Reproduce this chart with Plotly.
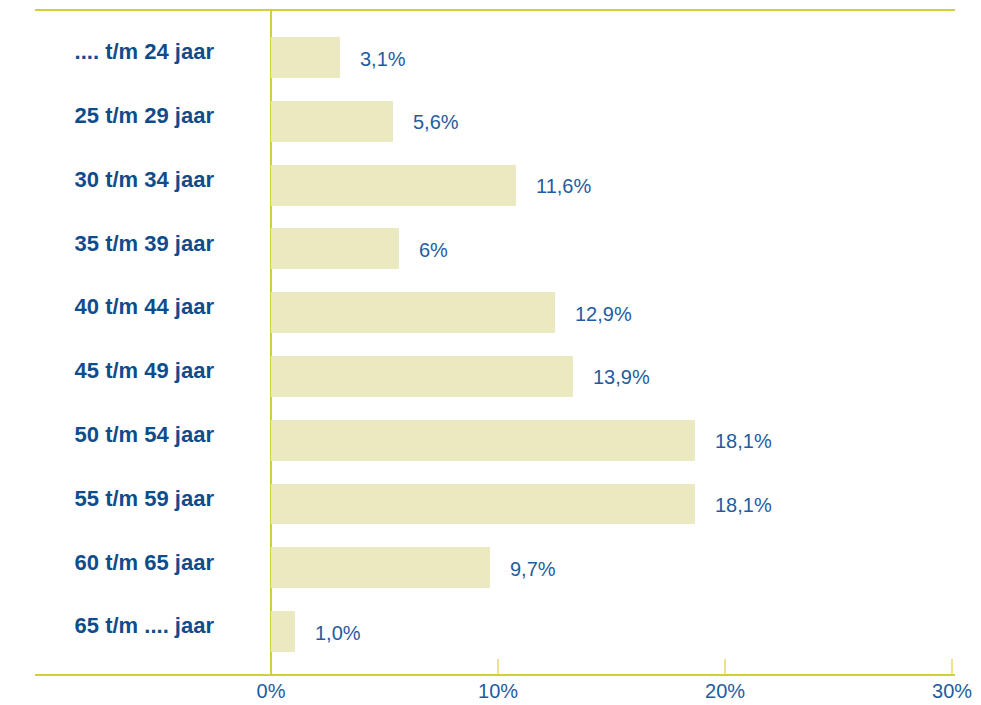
import plotly.graph_objects as go

categories = [".... t/m 24 jaar", "25 t/m 29 jaar", "30 t/m 34 jaar", "35 t/m 39 jaar",
              "40 t/m 44 jaar", "45 t/m 49 jaar", "50 t/m 54 jaar", "55 t/m 59 jaar",
              "60 t/m 65 jaar", "65 t/m .... jaar"]
# bar lengths as drawn in the picture (percent)
bar_values = [3.04, 5.37, 10.79, 5.64, 12.51, 13.30, 18.68, 18.68, 9.65, 1.06]
# value labels as printed
value_labels = ["3,1%", "5,6%", "11,6%", "6%", "12,9%", "13,9%", "18,1%", "18,1%", "9,7%", "1,0%"]
tick_vals = [0, 10, 20, 30]
tick_text = ["0%", "10%", "20%", "30%"]

FONT = "Liberation Sans, Arial, sans-serif"
DARK_BLUE = "#0f4c8c"
BLUE = "#1f5c9e"
BAR = "#ebe9c0"
LINE = "#d2cf3c"
TICK = "#f0e28a"

fig = go.Figure()
fig.add_trace(go.Bar(
    y=categories, x=bar_values, orientation="h",
    marker=dict(color=BAR, line=dict(width=0)),
    width=0.64, hoverinfo="skip",
))

for cat, v, lab in zip(categories, bar_values, value_labels):
    fig.add_annotation(x=v, y=cat, xref="x", yref="y", text=lab, showarrow=False,
                       xanchor="left", yanchor="middle", xshift=18, yshift=-1,
                       font=dict(family=FONT, size=20, color=BLUE))

# top and bottom horizontal rules extending beyond plot area
fig.add_shape(type="line", xref="paper", yref="paper", x0=-0.345, x1=1, y0=1, y1=1,
              line=dict(color=LINE, width=2))
fig.add_shape(type="line", xref="paper", yref="paper", x0=-0.345, x1=1, y0=0, y1=0,
              line=dict(color=LINE, width=2))

fig.update_layout(
    width=973, height=697,
    margin=dict(l=263, r=26, t=2, b=30),
    paper_bgcolor="white", plot_bgcolor="white",
    showlegend=False,
    bargap=0,
    xaxis=dict(range=[0, 30.13], tickvals=tick_vals, ticktext=tick_text,
               ticks="inside", ticklen=16, tickwidth=1.5, tickcolor=TICK,
               showgrid=False, showline=False, ticklabelstandoff=2,
               zeroline=True, zerolinecolor=LINE, zerolinewidth=2,
               tickfont=dict(family=FONT, size=20, color=BLUE), fixedrange=True),
    yaxis=dict(categoryorder="array", categoryarray=categories,
               range=[9.68, -0.745], showgrid=False, zeroline=False, showline=False,
               ticks="", ticklabelstandoff=56, ticklabelshift=6,
               tickfont=dict(family=FONT, size=22, color=DARK_BLUE, weight="bold"),
               fixedrange=True),
)

fig.write_html("out.html")
